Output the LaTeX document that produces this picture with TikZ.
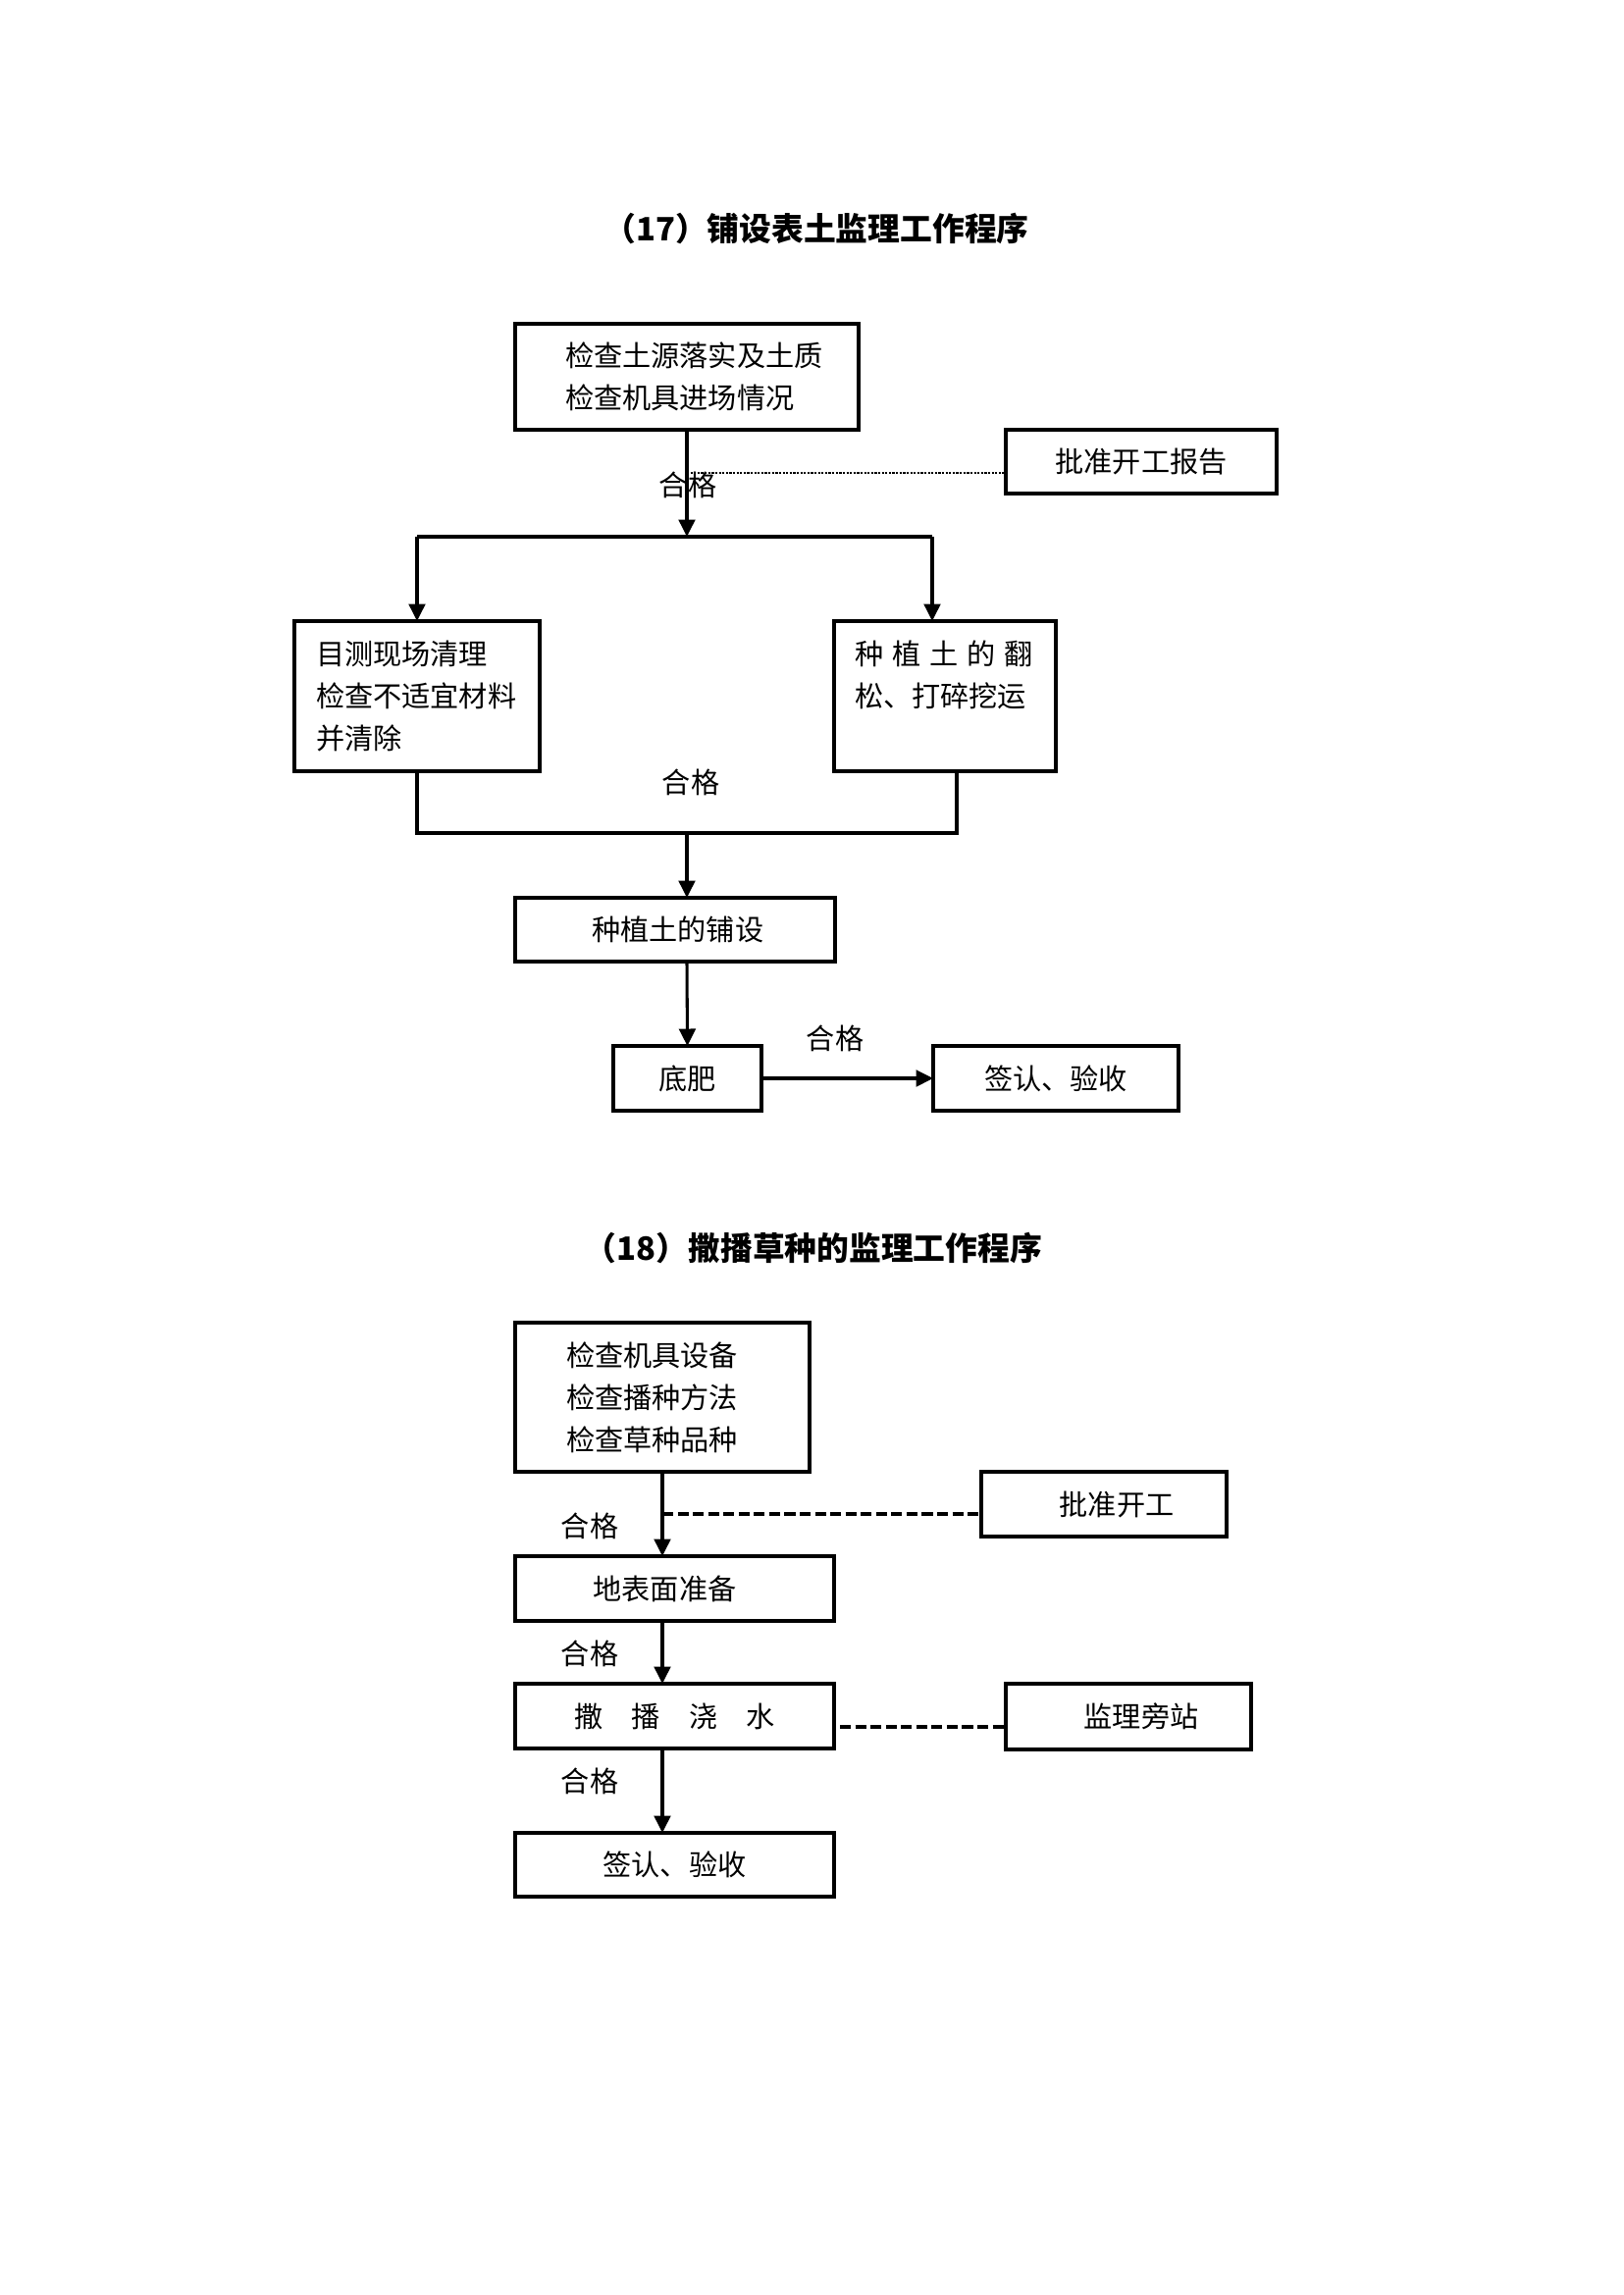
\documentclass[tikz,border=0pt]{standalone}
\usepackage{fontspec}
\setmainfont{Noto Sans CJK SC}
\usetikzlibrary{arrows.meta}
\tikzset{
  bx/.style 2 args={draw, line width=1.15pt, inner sep=0pt, outer sep=0pt,
    minimum width=#1*0.36pt, minimum height=#2*0.36pt,
    font=\fontsize{10.5pt}{15.5pt}\selectfont},
  lbl/.style={inner sep=0pt, font=\fontsize{10.5pt}{15.5pt}\selectfont},
  conn/.style={line width=1.1pt},
  arr/.style={conn, -{Triangle[length=6.3pt,width=6pt]}},
  dots/.style={line width=0.8pt, dash pattern=on 0.8pt off 0.5pt},
  dsh/.style={line width=1.2pt, dash pattern=on 4pt off 1.6pt},
  ttl/.style={inner sep=0pt, font=\fontsize{11.8pt}{14pt}\selectfont\bfseries},
}
\begin{document}
\begin{tikzpicture}[x=0.36pt, y=-0.36pt]
\useasboundingbox (0,0) rectangle (1654,2339);

% ---------- chart 17 ----------
\node[ttl] (t1) at (832,233) {（17）铺设表土监理工作程序};
\node[bx={350}{108}, align=left] (b1) at (700,384)
  {\makebox[89.28pt][l]{检查土源落实及土质}\\\makebox[89.28pt][l]{检查机具进场情况}};
\node[bx={276}{65}] (bp1) at (1163,470.5) {批准开工报告};
\node[lbl] (q1) at (701,494) {合格};
\coordinate (d1) at (700,482);
\coordinate (j1) at (700,547);
\coordinate (jl) at (425,547);
\coordinate (jr) at (950,547);
\node[bx={250}{153}, align=left] (lb) at (425,709.5)
  {\makebox[74.16pt][l]{目测现场清理}\\\makebox[74.16pt][l]{检查不适宜材料}\\\makebox[74.16pt][l]{并清除}};
\node[bx={226}{153}, align=left] (rb) at (963,709.5)
  {\makebox[66.24pt][l]{\makebox[65.5pt][s]{种\hfill 植\hfill 土\hfill 的\hfill 翻}}\\\makebox[66.24pt][l]{松、打碎挖运}\\\makebox[66.24pt][l]{\phantom{并}}};
\node[lbl] (q2) at (704,797) {合格};
\coordinate (k1) at (425,849);
\coordinate (k2) at (975,849);
\coordinate (k3) at (700,849);
\node[bx={326}{65}] (pb) at (688,947.5) {\hspace*{2pt}种植土的铺设};
\node[bx={151}{66}] (db) at (700.5,1099) {底肥};
\node[bx={250}{66}] (qs) at (1076,1099) {签认、验收};
\node[lbl] (q3) at (851,1058) {合格};

\draw[arr] (b1.south) -- (j1);
\draw[dots] (d1) -- (d1 -| bp1.west);
\draw[conn] (jl) -- (jr);
\draw[arr] (jl) -- (lb.north);
\draw[arr] (jr) -- (jr |- rb.north);
\draw[conn] (lb.south) -- (k1) -- (k2) -- (k2 |- rb.south);
\draw[arr] (k3) -- (k3 |- pb.north);
\draw[arr] (k3 |- pb.south) -- (db.north);
\draw[arr] (db.east) -- (qs.west);

% ---------- chart 18 ----------
\node[ttl] (t2) at (829,1272) {（18）撒播草种的监理工作程序};
\node[bx={300}{152}, align=left] (c1) at (675,1424)
  {\makebox[70.56pt][l]{检查机具设备}\\\makebox[70.56pt][l]{检查播种方法}\\\makebox[70.56pt][l]{检查草种品种}};
\node[bx={250}{66}] (bk) at (1125,1533) {\hspace*{9.36pt}批准开工};
\node[lbl] (q4) at (601,1555) {合格};
\node[bx={325}{66}] (c2) at (687.5,1619) {地表面准备\hspace*{7.2pt}};
\node[lbl] (q5) at (601,1685) {合格};
\node[bx={325}{66}] (c3) at (687.5,1749) {撒\hspace{1em}播\hspace{1em}浇\hspace{1em}水};
\node[bx={250}{67}] (jz) at (1150,1749.5) {\hspace*{9.36pt}监理旁站};
\node[lbl] (q6) at (601,1815) {合格};
\node[bx={325}{65}] (c4) at (687.5,1900.5) {签认、验收};
\coordinate (d2) at (675,1543);
\coordinate (y3) at (0,1760);
\coordinate (x3) at (856,0);

\draw[arr] (c1.south) -- (c1.south |- c2.north);
\draw[dsh] (d2) -- (d2 -| bk.west);
\draw[arr] (c1.south |- c2.south) -- (c1.south |- c3.north);
\draw[dsh] (x3 |- y3) -- (jz.west |- y3);
\draw[arr] (c1.south |- c3.south) -- (c1.south |- c4.north);
\end{tikzpicture}
\end{document}
